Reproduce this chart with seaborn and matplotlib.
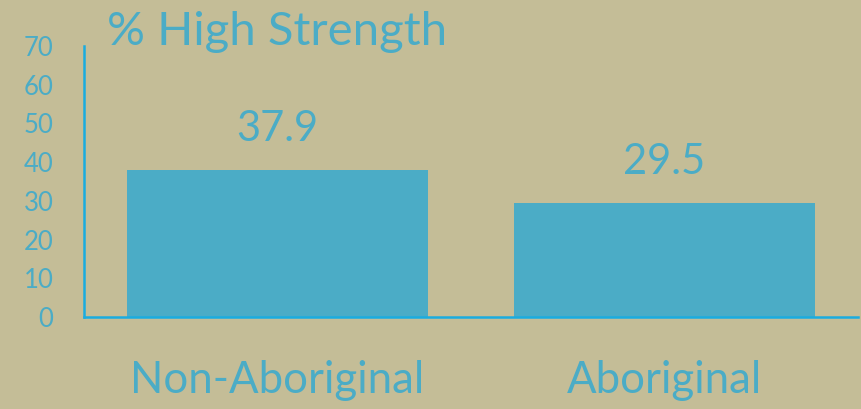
import matplotlib
matplotlib.use("Agg")
import matplotlib.pyplot as plt
import seaborn as sns
import pandas as pd

# data
groups = ["Non-Aboriginal", "Aboriginal"]
pct_high = [37.9, 29.5]
y_ticks = [0, 10, 20, 30, 40, 50, 60, 70]

bg = "#C4BD97"
blue = "#4BACC6"
axis_blue = "#1AACE0"

plt.rcParams["font.family"] = ["Lato", "DejaVu Sans"]

df = pd.DataFrame({"group": groups, "pct": pct_high})

fig = plt.figure(figsize=(8.61, 4.09), dpi=100)
fig.patch.set_facecolor(bg)
ax = fig.add_axes([84 / 861, 1 - 317 / 409, (858 - 84) / 861, (317 - 46) / 409])
ax.set_facecolor(bg)

sns.barplot(data=df, x="group", y="pct", color=blue, saturation=1, width=0.78, ax=ax)

ax.set_xlim(-0.5, 1.5)
ax.set_ylim(0, 70)
ax.set_yticks(y_ticks)
ax.set_xlabel("")
ax.set_ylabel("")

for s in ["top", "right"]:
    ax.spines[s].set_visible(False)
for s in ["left", "bottom"]:
    ax.spines[s].set_color(axis_blue)
    ax.spines[s].set_linewidth(1.8)

ax.tick_params(axis="y", length=0, pad=22, labelsize=18.5, labelcolor=blue)
ax.tick_params(axis="x", length=0, pad=31, labelsize=31.5, labelcolor=blue)

# value labels above bars
for c in ax.containers:
    ax.bar_label(c, labels=[f"{v:.1f}" for v in pct_high], padding=16,
                 fontsize=30, color=blue)

fig.text(107 / 861, 1 - 45 / 409, "% High Strength", fontsize=34, color=blue,
         ha="left", va="baseline")

fig.savefig("out.png", dpi=100, facecolor=bg)
